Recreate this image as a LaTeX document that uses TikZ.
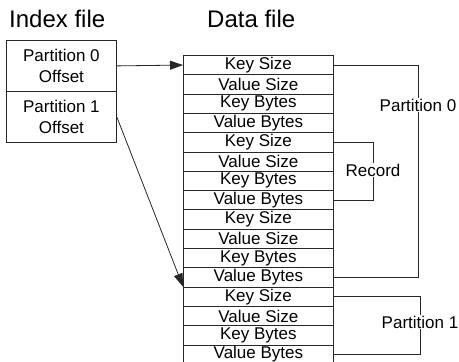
\documentclass[tikz,border=0pt]{standalone}
\usepackage{fontspec}
\setmainfont{Liberation Sans}
\usetikzlibrary{arrows.meta}
\begin{document}
\begin{tikzpicture}[x=1pt,y=-1pt,
  line/.style={draw=black!85,line width=0.8pt},
  cell/.style={line,anchor=north west,minimum width=150pt,minimum height=19.3pt,inner sep=0pt,font=\fontsize{17}{18}\selectfont},
  idx/.style={line,anchor=north west,minimum width=110pt,minimum height=51pt,inner sep=0pt,align=center,font=\fontsize{17}{20.5}\selectfont},
  title/.style={anchor=base west,inner sep=0pt,font=\fontsize{24}{26}\selectfont},
  lbl/.style={fill=white,inner sep=1pt,font=\fontsize{17}{18}\selectfont},
  arr/.style={line,-{Triangle[length=13pt,width=9pt]}}]
\clip (0,0) rectangle (459,362);
\fill[white] (0,0) rectangle (459,362);
\node[title] (tidx) at (9,27) {Index file};
\node[title] (tdata) at (207,27) {Data file};
\node[idx] (p0) at (6,40) {Partition 0\\Offset};
\node[idx] (p1) at (6,91) {Partition 1\\Offset};
\foreach \i/\t in {1/Key Size,2/Value Size,3/Key Bytes,4/Value Bytes,
                   5/Key Size,6/Value Size,7/Key Bytes,8/Value Bytes,
                   9/Key Size,10/Value Size,11/Key Bytes,12/Value Bytes,
                   13/Key Size,14/Value Size,15/Key Bytes,16/Value Bytes}
  \node[cell] (c\i) at (183,{55+(\i-1)*19.3}) {\t};
\draw[arr] (p0.east) -- (c1.west);
\draw[arr] (p1.east) -- (c13.north west);
% Partition 0 bracket
\coordinate (b0t) at (418,0);
\draw[line] (c1.east) -- (c1.east -| b0t) -- (c12.east -| b0t) -- (c12.east);
\node[lbl] (lp0) at (418,105) {Partition 0};
% Record bracket
\coordinate (brt) at (373,0);
\draw[line] (c5.east) -- (c5.east -| brt) -- (c8.east -| brt) -- (c8.east);
\node[lbl] (lrec) at (373,170) {Record};
% Partition 1 bracket
\coordinate (b1t) at (420,0);
\draw[line] (c13.east) -- (c13.east -| b1t) -- (c16.east -| b1t) -- (c16.east);
\node[lbl] (lp1) at (420,322) {Partition 1};
\end{tikzpicture}
\end{document}
